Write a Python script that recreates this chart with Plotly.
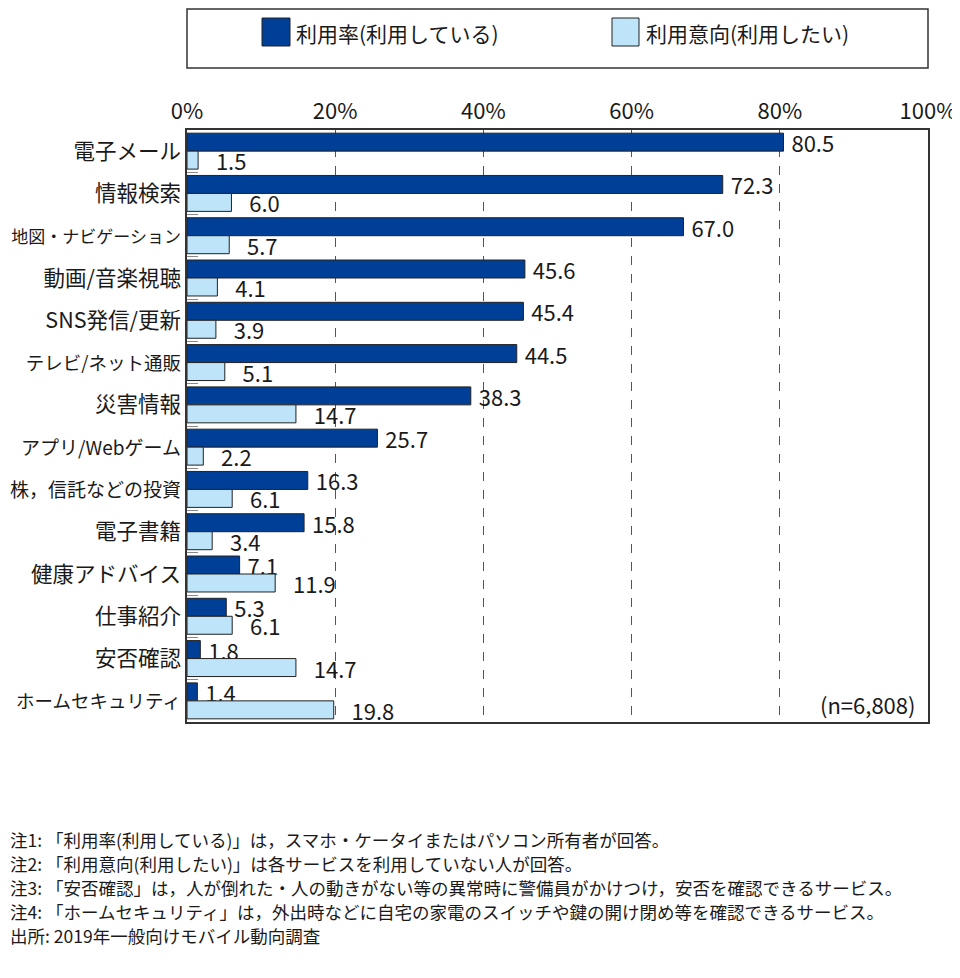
import plotly.graph_objects as go

categories = ["電子メール", "情報検索", "地図・ナビゲーション", "動画/音楽視聴", "SNS発信/更新",
              "テレビ/ネット通販", "災害情報", "アプリ/Webゲーム", "株，信託などの投資", "電子書籍",
              "健康アドバイス", "仕事紹介", "安否確認", "ホームセキュリティ"]
usage_rate = [80.5, 72.3, 67.0, 45.6, 45.4, 44.5, 38.3, 25.7, 16.3, 15.8, 7.1, 5.3, 1.8, 1.4]
usage_intent = [1.5, 6.0, 5.7, 4.1, 3.9, 5.1, 14.7, 2.2, 6.1, 3.4, 11.9, 6.1, 14.7, 19.8]
series_names = ["利用率(利用している)", "利用意向(利用したい)"]
x_ticks = [0, 20, 40, 60, 80, 100]
notes = [
    "注1: 「利用率(利用している)」は，スマホ・ケータイまたはパソコン所有者が回答。",
    "注2: 「利用意向(利用したい)」は各サービスを利用していない人が回答。",
    "注3: 「安否確認」は，人が倒れた・人の動きがない等の異常時に警備員がかけつけ，安否を確認できるサービス。",
    "注4: 「ホームセキュリティ」は，外出時などに自宅の家電のスイッチや鍵の開け閉め等を確認できるサービス。",
    "出所: 2019年一般向けモバイル動向調査",
]
sample_note = "(n=6,808)"

FONT = "Noto Sans CJK JP"
DARK = "#003f98"
LIGHT = "#bde4f8"
TXT = "#1a1a1a"

# per-label font sizes (long labels are set narrower in the original)
label_sizes = {"地図・ナビゲーション": 17, "テレビ/ネット通販": 18.5, "アプリ/Webゲーム": 19,
               "株，信託などの投資": 19, "ホームセキュリティ": 18.5}
ticktext = [f'<span style="font-size:{label_sizes[c]}px">{c}</span>' if c in label_sizes else c
            for c in categories]

fig = go.Figure()
for name, vals, col, pad in [(series_names[0], usage_rate, DARK, 1), (series_names[1], usage_intent, LIGHT, 3)]:
    fig.add_trace(go.Bar(
        y=categories, x=vals, orientation="h", name=name,
        marker=dict(color=col, line=dict(color="#222222", width=1)),
        text=["\u00a0" * pad + f"{v:.1f}" for v in vals], textposition="outside",
        textfont=dict(family=FONT, size=22, color=TXT),
        outsidetextfont=dict(family=FONT, size=22, color=TXT),
        cliponaxis=False, constraintext="none", showlegend=False,
    ))

# the page has an 8px body margin, so the figure starts at (8, 8)
W, H = 952, 970
L, R, T, B = 179, 32, 122, 256
fig.update_layout(
    width=W, height=H,
    margin=dict(l=L, r=R, t=T, b=B),
    paper_bgcolor="white", plot_bgcolor="white",
    barmode="group", bargap=0.15, bargroupgap=0,
    font=dict(family=FONT, size=18, color=TXT),
    xaxis=dict(range=[0, 100], side="top", tickvals=x_ticks,
               ticktext=[f"{t}%" for t in x_ticks], automargin=False,
               showgrid=True, gridcolor="#555555", griddash="dash", gridwidth=1,
               showline=True, mirror=True, linecolor="#333333", linewidth=1.5,
               zeroline=False, ticks="", tickfont=dict(size=22, family=FONT, color=TXT)),
    yaxis=dict(autorange="reversed", tickvals=categories, ticktext=ticktext, automargin=False,
               showline=True, mirror=True, linecolor="#333333", linewidth=1.5,
               ticks="inside", tickson="boundaries", ticklen=11, tickcolor="#888888",
               tickfont=dict(size=21.5, family=FONT, color=TXT), showgrid=False),
)

PX0, PX1, PY0, PY1 = 187, 928, 130, 722
def py(ypix):
    return (PY1 - ypix) / (PY1 - PY0)
def px(xpix):
    return (xpix - PX0) / (PX1 - PX0)

shapes = [
    dict(type="rect", xref="paper", yref="paper", x0=px(187), x1=px(928), y0=py(68), y1=py(9),
         line=dict(color="#333333", width=1.5), fillcolor="white"),
    dict(type="rect", xref="paper", yref="paper", x0=px(262), x1=px(290), y0=py(46), y1=py(18),
         line=dict(color="#222222", width=1), fillcolor=DARK),
    dict(type="rect", xref="paper", yref="paper", x0=px(612), x1=px(639), y0=py(46), y1=py(18),
         line=dict(color="#222222", width=1), fillcolor=LIGHT),
]
annotations = [
    dict(xref="paper", yref="paper", x=px(294), y=py(33), text=series_names[0], showarrow=False,
         xanchor="left", yanchor="middle", font=dict(size=21, family=FONT, color=TXT)),
    dict(xref="paper", yref="paper", x=px(644), y=py(33), text=series_names[1], showarrow=False,
         xanchor="left", yanchor="middle", font=dict(size=21, family=FONT, color=TXT)),
    dict(xref="paper", yref="paper", x=px(917), y=py(704), text=sample_note, showarrow=False,
         xanchor="right", yanchor="middle", font=dict(size=22, family=FONT, color=TXT)),
]
for i, n in enumerate(notes):
    annotations.append(dict(xref="paper", yref="paper", x=px(8), y=py(839 + 24 * i), text=n,
                            showarrow=False, xanchor="left", yanchor="middle",
                            font=dict(size=17.5, family=FONT, color=TXT)))
fig.update_layout(shapes=shapes, annotations=annotations)

fig.write_html("out.html")
